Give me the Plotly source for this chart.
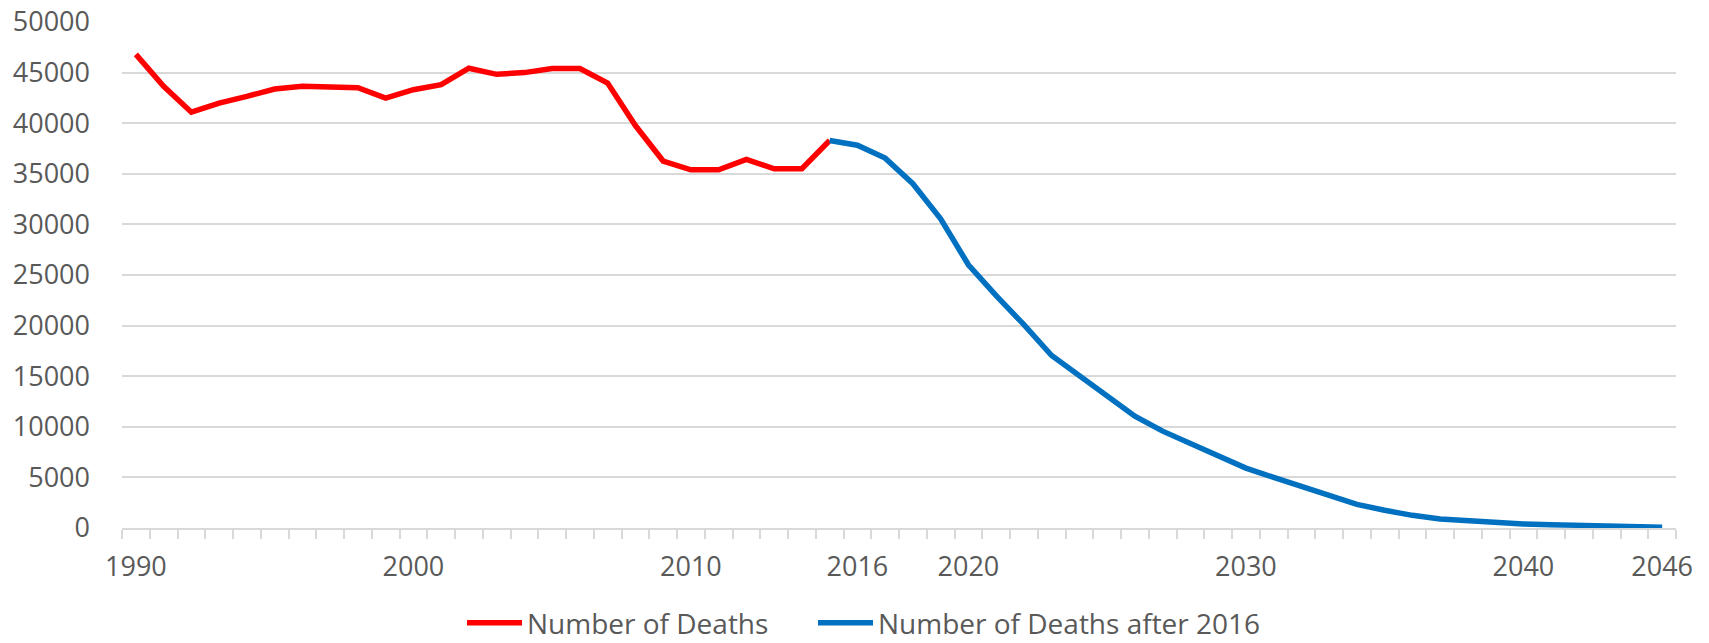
import plotly.graph_objects as go

# Category positions (one per year slot) and the labels Excel shows
x_index = list(range(56))
tick_positions = [0, 10, 20, 26, 30, 40, 50, 55]
tick_labels = ["1990", "2000", "2010", "2016", "2020", "2030", "2040", "2046"]

# Series 1: Number of Deaths (slots 0..25)
deaths_x = x_index[0:26]
deaths = [46800, 43640, 41090, 41990, 42650, 43380, 43640, 43510, 43510, 42480,
          43310, 43810, 45430, 44830, 45000, 45400, 45400, 43970, 39770, 36260,
          35400, 35400, 36420, 35500, 35500, 38290]

# Series 2: Number of Deaths after 2016 (slots 25..55)
after_x = x_index[25:56]
after = [38290, 37820, 36550, 34020, 30560, 26010, 22960, 20100, 17040, 15070,
         13050, 11050, 9570, 8390, 7150, 5920, 5000, 4080, 3230, 2340,
         1750, 1250, 890, 690, 530, 400, 330, 300, 230, 165, 80]

y_ticks = list(range(0, 50001, 5000))

FONT = "Open Sans"
TXT = "#595959"
GRID = "#D9D9D9"

fig = go.Figure()
fig.add_trace(go.Scatter(x=deaths_x, y=deaths, mode="lines", name="Number of Deaths",
                         line=dict(color="#FF0000", width=5.5), legend="legend"))
fig.add_trace(go.Scatter(x=after_x, y=after, mode="lines", name="Number of Deaths after 2016",
                         line=dict(color="#0070C0", width=5.5), legend="legend2"))

legend_common = dict(orientation="h", xref="container", yref="container",
                     xanchor="left", y=0.0311, yanchor="middle",
                     font=dict(family=FONT, size=28, color=TXT),
                     itemwidth=55, bgcolor="rgba(0,0,0,0)")

fig.update_layout(
    width=1709, height=643, autosize=False,
    paper_bgcolor="white", plot_bgcolor="white",
    margin=dict(l=122, r=33, t=22, b=115),
    font=dict(family=FONT, size=27, color=TXT),
    showlegend=True,
    legend=dict(x=462 / 1709, **legend_common),
    legend2=dict(x=813 / 1709, **legend_common),
    xaxis=dict(range=[-0.5, 55.5], tickmode="array", tickvals=tick_positions,
               ticktext=tick_labels, ticks="", showgrid=False, zeroline=False,
               showline=True, linecolor=GRID, linewidth=1.5, automargin=False,
               tickfont=dict(family=FONT, size=27, color=TXT),
               ticklabelstandoff=14,
               minor=dict(ticks="outside", ticklen=9, tickcolor=GRID, tickwidth=1.5,
                          tick0=-0.5, dtick=1, showgrid=False)),
    yaxis=dict(range=[0, 50000], tickmode="array", tickvals=y_ticks,
               ticktext=[str(v) for v in y_ticks], showgrid=True, gridcolor=GRID,
               gridwidth=1.5, zeroline=False, showline=False, ticks="",
               automargin=False,
               tickfont=dict(family=FONT, size=27, color=TXT),
               ticklabelstandoff=31),
)

fig.write_html("out.html", config={"displayModeBar": False},
               post_script="document.body.style.margin='0';")
